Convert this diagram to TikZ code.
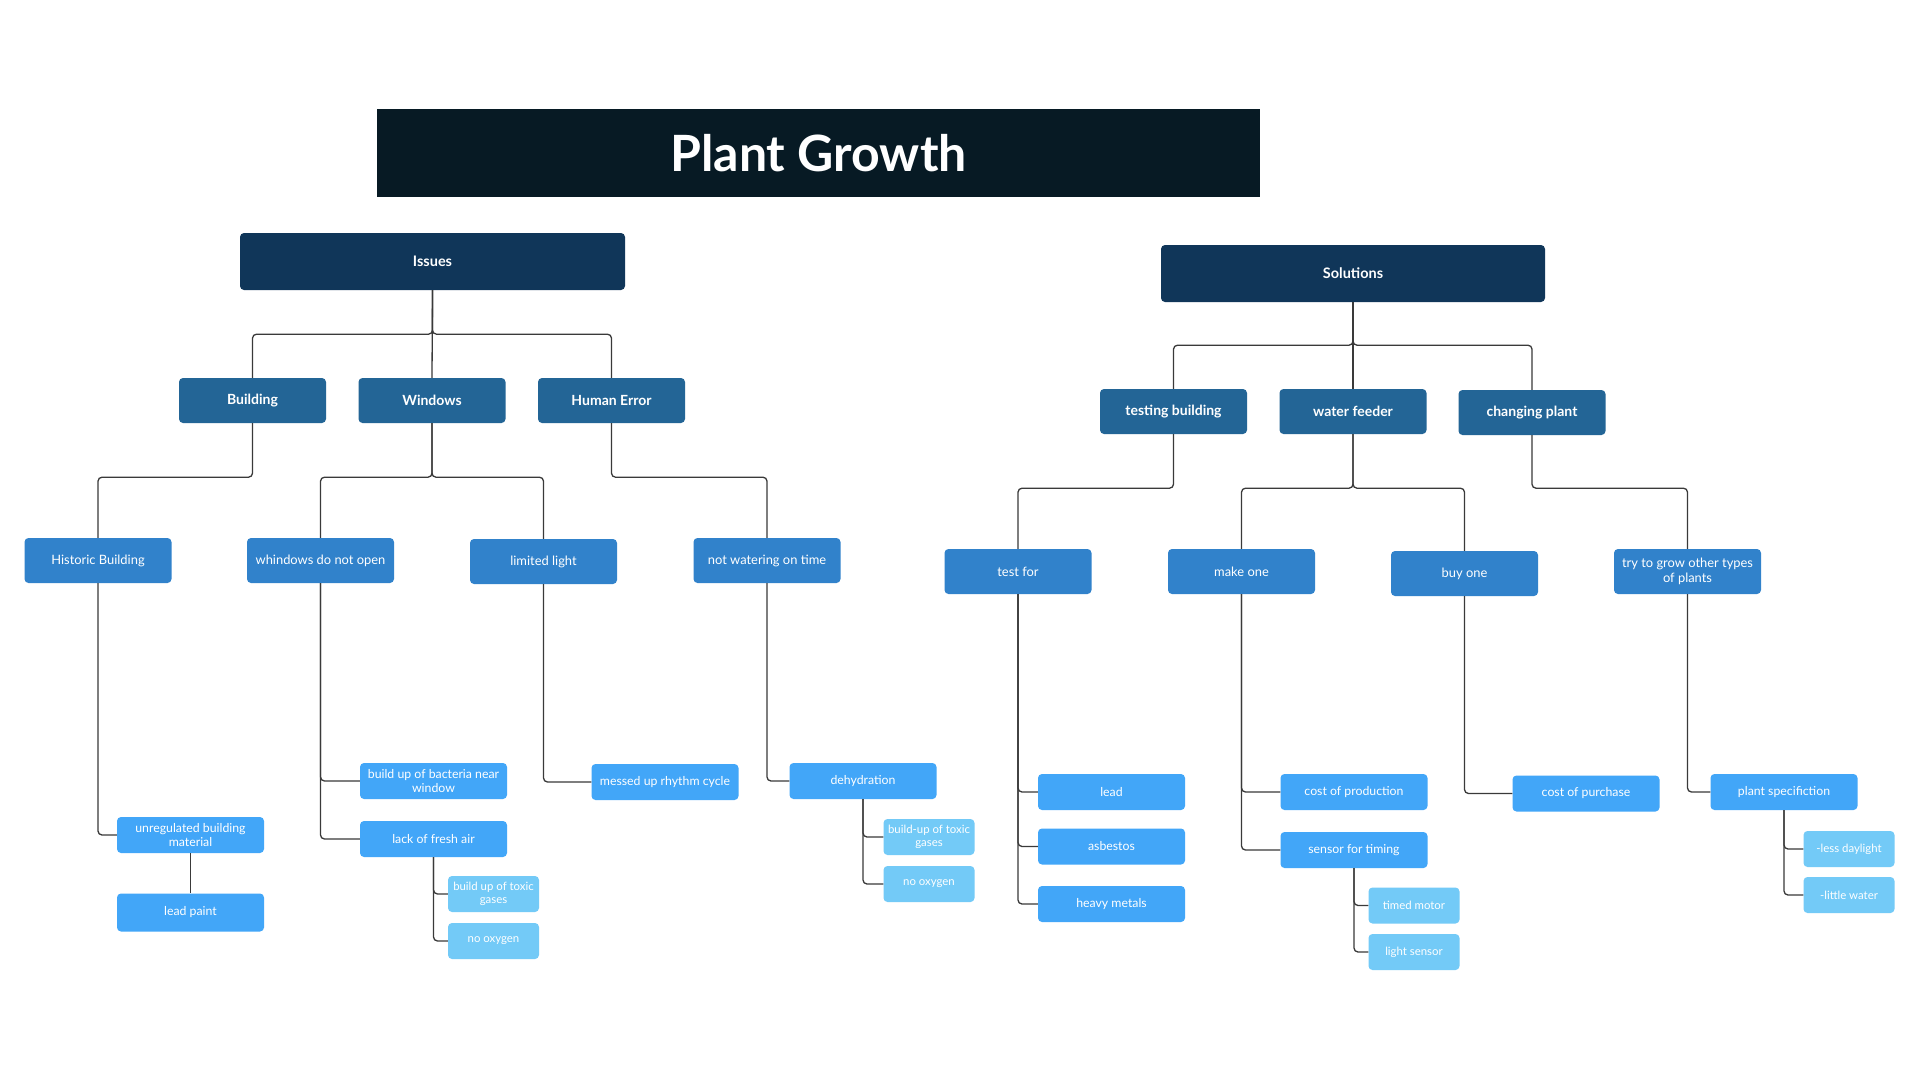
\documentclass[tikz,border=0pt]{standalone}
\usepackage{fontspec}
\setmainfont{Lato}
\definecolor{cTitle}{HTML}{071A24}
\definecolor{cTop}{HTML}{103659}
\definecolor{cOne}{HTML}{236596}
\definecolor{cTwo}{HTML}{3182CB}
\definecolor{cThree}{HTML}{42A6F8}
\definecolor{cFour}{HTML}{73CAF7}
\definecolor{cLine}{HTML}{3A3A3A}
\begin{document}
\begin{tikzpicture}[x=1pt,y=-1pt,
  box/.style={rounded corners=4pt, text=white, align=center, inner sep=0pt},
  topbox/.style={box, fill=cTop, minimum width=385pt, minimum height=57pt, font=\fontsize{14.5}{16}\selectfont\bfseries},
  lvone/.style={box, fill=cOne, minimum width=147pt, minimum height=45pt, font=\fontsize{14}{16}\selectfont\bfseries},
  lvtwo/.style={box, fill=cTwo, minimum width=147pt, minimum height=45pt, font=\fontsize{12.9}{14.5}\selectfont},
  lvthree/.style={box, fill=cThree, minimum width=147pt, minimum height=36pt, font=\fontsize{12.3}{13.5}\selectfont},
  lvfour/.style={box, fill=cFour, minimum width=91pt, minimum height=36pt, font=\fontsize{11.4}{12.5}\selectfont},
  conn/.style={draw=cLine, line width=1.3pt, rounded corners=4pt}
]
\useasboundingbox[fill=white] (0,0) rectangle (1920,1080);

% title banner
\node[fill=cTitle, text=white, minimum width=883pt, minimum height=88pt, inner sep=0pt,
      font=\fontsize{50}{56}\selectfont\bfseries] (title) at (818.5,153) {Plant Growth};

% roots
\node[topbox] (issues) at (432.5,261.5) {Issues};
\node[topbox, minimum width=384pt] (solutions) at (1353,273.5) {Solutions};

% first level
\node[lvone] (building) at (252.5,400.5) {Building};
\node[lvone] (windows) at (432,400.5) {Windows};
\node[lvone] (human) at (611.5,400.5) {Human Error};
\node[lvone] (testing) at (1173.5,411.5) {testing building};
\node[lvone] (water) at (1353,411.5) {water feeder};
\node[lvone] (changing) at (1532,412.5) {changing plant};

% second level
\node[lvtwo] (historic) at (98,560.5) {Historic Building};
\node[lvtwo] (whindows) at (320.5,560.5) {whindows do not open};
\node[lvtwo] (limited) at (543.5,561.5) {limited light};
\node[lvtwo] (notwater) at (767,560.5) {not watering on time};
\node[lvtwo] (testfor) at (1018,571.5) {test for};
\node[lvtwo] (makeone) at (1241.5,571.5) {make one};
\node[lvtwo] (buyone) at (1464.5,573.5) {buy one};
\node[lvtwo] (trygrow) at (1687.5,571.5) {try to grow other types\\of plants};

% third level
\node[lvthree] (bacteria) at (433.5,781) {build up of bacteria near\\window};
\node[lvthree] (freshair) at (433.5,839) {lack of fresh air};
\node[lvthree] (unreg) at (190.5,835) {unregulated building\\material};
\node[lvthree, minimum height=38pt] (leadpaint) at (190.5,912.5) {lead paint};
\node[lvthree] (messed) at (665,782) {messed up rhythm cycle};
\node[lvthree] (dehyd) at (863,781) {dehydration};
\node[lvthree] (lead) at (1111.5,792) {lead};
\node[lvthree] (asbestos) at (1111.5,846.5) {asbestos};
\node[lvthree] (heavy) at (1111.5,904) {heavy metals};
\node[lvthree] (costprod) at (1354,792) {cost of production};
\node[lvthree] (sensor) at (1354,850) {sensor for timing};
\node[lvthree] (costpurch) at (1586,793.5) {cost of purchase};
\node[lvthree] (plantspec) at (1784,792) {plant specifiction};

% fourth level
\node[lvfour] (toxicA) at (493.5,894) {build up of toxic\\gases};
\node[lvfour] (oxyA) at (493.5,941) {no oxygen};
\node[lvfour] (toxicB) at (929,837) {build-up of toxic\\gases};
\node[lvfour] (oxyB) at (929,884) {no oxygen};
\node[lvfour] (timed) at (1414,905.5) {timed motor};
\node[lvfour] (lightsens) at (1414,952) {light sensor};
\node[lvfour] (daylight) at (1849,849) {-less daylight};
\node[lvfour] (littlewater) at (1849,895) {-little water};

% tree connectors
\draw[conn] (issues.south) -- ++(0,44) -| (building.north);
\draw[conn] (issues.south) -- ++(0,44) -| (human.north);
\draw[conn] (issues.south) -- (windows.north);
\draw[conn] (solutions.south) -- ++(0,43) -| (testing.north);
\draw[conn] (solutions.south) -- ++(0,43) -| (changing.north);
\draw[conn] (solutions.south) -- (water.north);

\draw[conn] (building.south) -- ++(0,54) -| (historic.north);
\draw[conn] (windows.south) -- ++(0,54) -| (whindows.north);
\draw[conn] (windows.south) -- ++(0,54) -| (limited.north);
\draw[conn] (human.south) -- ++(0,54) -| (notwater.north);
\draw[conn] (testing.south) -- ++(0,54) -| (testfor.north);
\draw[conn] (water.south) -- ++(0,54) -| (makeone.north);
\draw[conn] (water.south) -- ++(0,54) -| (buyone.north);
\draw[conn] (changing.south) -- ++(0,53) -| (trygrow.north);

% side connectors
\draw[conn] (historic.south) |- (unreg.west);
\draw[conn] (unreg.south) -- (leadpaint.north);
\draw[conn] (whindows.south) |- (bacteria.west);
\draw[conn] (whindows.south) |- (freshair.west);
\draw[conn] (freshair.south) |- (toxicA.west);
\draw[conn] (freshair.south) |- (oxyA.west);
\draw[conn] (limited.south) |- (messed.west);
\draw[conn] (notwater.south) |- (dehyd.west);
\draw[conn] (dehyd.south) |- (toxicB.west);
\draw[conn] (dehyd.south) |- (oxyB.west);
\draw[conn] (testfor.south) |- (lead.west);
\draw[conn] (testfor.south) |- (asbestos.west);
\draw[conn] (testfor.south) |- (heavy.west);
\draw[conn] (makeone.south) |- (costprod.west);
\draw[conn] (makeone.south) |- (sensor.west);
\draw[conn] (sensor.south) |- (timed.west);
\draw[conn] (sensor.south) |- (lightsens.west);
\draw[conn] (buyone.south) |- (costpurch.west);
\draw[conn] (trygrow.south) |- (plantspec.west);
\draw[conn] (plantspec.south) |- (daylight.west);
\draw[conn] (plantspec.south) |- (littlewater.west);
\end{tikzpicture}
\end{document}
